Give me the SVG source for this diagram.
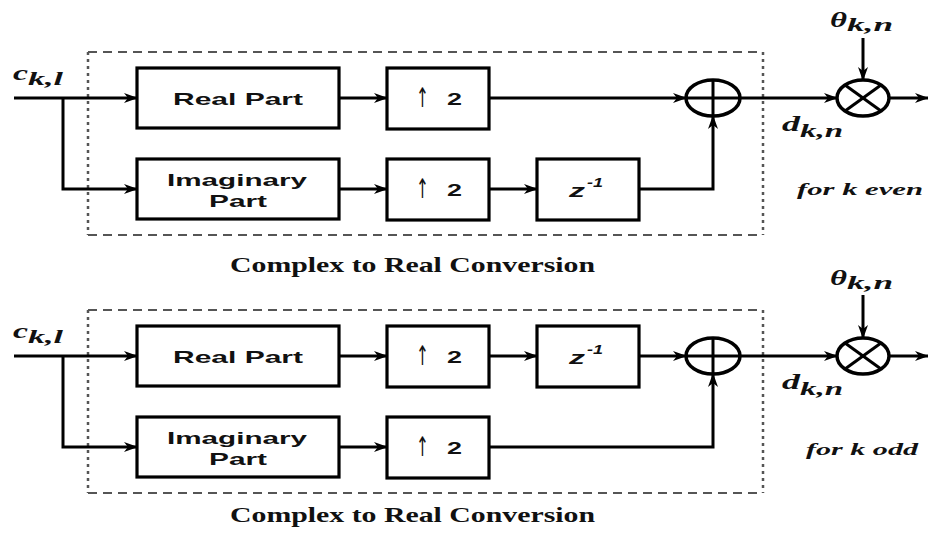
<svg xmlns="http://www.w3.org/2000/svg" width="928" height="534" viewBox="0 0 928 534">
  <style>
    .box { fill: #fff; stroke: #000; stroke-width: 3.2; }
    .wire { fill: none; stroke: #000; stroke-width: 3; }
    .dash-h { stroke: #555; stroke-width: 2; stroke-dasharray: 9 6; fill: none; }
    .dash-v { stroke: #555; stroke-width: 2.5; stroke-dasharray: 3 4; fill: none; }
    .lbl { font-family: "Liberation Sans", Arial, sans-serif; font-weight: bold; font-size: 17px; fill: #111; }
    .up { font-family: "DejaVu Sans", sans-serif; font-size: 27px; fill: #111; }
    .zl { font-family: "Liberation Sans", Arial, sans-serif; font-weight: bold; font-style: italic; fill: #111; }
    .math { font-family: "Liberation Serif", "Times New Roman", serif; font-weight: bold; font-style: italic; fill: #111; }
    .cap { font-family: "Liberation Serif", "Times New Roman", serif; font-weight: bold; font-size: 21px; fill: #111; }
    .op { fill: #fff; stroke: #000; stroke-width: 3.5; }
  </style>
  <defs>
    <marker id="arr" viewBox="0 0 14 10" refX="13" refY="5" markerWidth="14" markerHeight="10" markerUnits="userSpaceOnUse" orient="auto">
      <path d="M0,0 L14,5 L0,10 L4,5 Z" fill="#000"/>
    </marker>
  </defs>

  <!-- upper chain: k even -->
  <g id="frame-even">
    <line class="dash-h" x1="88" y1="52" x2="763" y2="52"/>
    <line class="dash-h" x1="88" y1="235" x2="763" y2="235"/>
    <line class="dash-v" x1="88" y1="52" x2="88" y2="235"/>
    <line class="dash-v" x1="763" y1="52" x2="763" y2="235"/>
  </g>
  <g id="in-even">
    <text class="math" x="13" y="80" font-size="21" textLength="15" lengthAdjust="spacingAndGlyphs">c</text>
    <text class="math" x="28" y="85" font-size="19" textLength="35" lengthAdjust="spacingAndGlyphs">k,l</text>
  </g>
  <g id="real-even">
    <rect class="box" x="137" y="68" width="202" height="60"/>
    <text class="lbl" x="173" y="105" textLength="130" lengthAdjust="spacingAndGlyphs">Real Part</text>
  </g>
  <g id="imag-even">
    <rect class="box" x="137" y="159" width="202" height="60"/>
    <text class="lbl" x="167" y="186" textLength="140" lengthAdjust="spacingAndGlyphs">Imaginary</text>
    <text class="lbl" x="209" y="207" textLength="58" lengthAdjust="spacingAndGlyphs">Part</text>
  </g>
  <g id="up-real-even">
    <rect class="box" x="387" y="68" width="102" height="61"/>
    <text class="up" x="416" y="107" textLength="13" lengthAdjust="spacingAndGlyphs">↑</text>
    <text class="lbl" x="447" y="105" textLength="15" lengthAdjust="spacingAndGlyphs">2</text>
  </g>
  <g id="up-imag-even">
    <rect class="box" x="387" y="159" width="102" height="61"/>
    <text class="up" x="416" y="198" textLength="13" lengthAdjust="spacingAndGlyphs">↑</text>
    <text class="lbl" x="447" y="196" textLength="15" lengthAdjust="spacingAndGlyphs">2</text>
  </g>
  <g id="delay-even">
    <rect class="box" x="537" y="159" width="102" height="61"/>
    <text class="zl" x="569" y="197" font-size="18" textLength="16" lengthAdjust="spacingAndGlyphs">z</text>
    <text class="zl" x="587" y="187" font-size="13" textLength="16" lengthAdjust="spacingAndGlyphs">-1</text>
  </g>
  <g id="sum-even">
    <ellipse class="op" cx="713" cy="98" rx="27" ry="18"/>
    <line class="wire" x1="686" y1="98" x2="740" y2="98"/>
    <line class="wire" x1="713" y1="80" x2="713" y2="116"/>
  </g>
  <g id="mix-even">
    <ellipse class="op" cx="863" cy="98" rx="26" ry="18"/>
    <line class="wire" x1="845" y1="85" x2="881" y2="111"/>
    <line class="wire" x1="845" y1="111" x2="881" y2="85"/>
    <text class="math" x="830" y="27" font-size="20" textLength="17" lengthAdjust="spacingAndGlyphs">θ</text>
    <text class="math" x="847" y="31" font-size="19" textLength="46" lengthAdjust="spacingAndGlyphs">k,n</text>
    <text class="math" x="782" y="131" font-size="20" textLength="18" lengthAdjust="spacingAndGlyphs">d</text>
    <text class="math" x="800" y="137" font-size="19" textLength="43" lengthAdjust="spacingAndGlyphs">k,n</text>
    <text class="math" x="797" y="195" font-size="16" textLength="126" lengthAdjust="spacingAndGlyphs">for k even</text>
  </g>
  <text id="caption-even" class="cap" x="230" y="272" textLength="365" lengthAdjust="spacingAndGlyphs">Complex to Real Conversion</text>

  <!-- lower chain: k odd -->
  <g id="frame-odd">
    <line class="dash-h" x1="88" y1="310" x2="763" y2="310"/>
    <line class="dash-h" x1="88" y1="493" x2="763" y2="493"/>
    <line class="dash-v" x1="88" y1="310" x2="88" y2="493"/>
    <line class="dash-v" x1="763" y1="310" x2="763" y2="493"/>
  </g>
  <g id="in-odd">
    <text class="math" x="13" y="338" font-size="21" textLength="15" lengthAdjust="spacingAndGlyphs">c</text>
    <text class="math" x="28" y="343" font-size="19" textLength="35" lengthAdjust="spacingAndGlyphs">k,l</text>
  </g>
  <g id="real-odd">
    <rect class="box" x="137" y="326" width="202" height="60"/>
    <text class="lbl" x="173" y="363" textLength="130" lengthAdjust="spacingAndGlyphs">Real Part</text>
  </g>
  <g id="imag-odd">
    <rect class="box" x="137" y="417" width="202" height="60"/>
    <text class="lbl" x="167" y="444" textLength="140" lengthAdjust="spacingAndGlyphs">Imaginary</text>
    <text class="lbl" x="209" y="465" textLength="58" lengthAdjust="spacingAndGlyphs">Part</text>
  </g>
  <g id="up-real-odd">
    <rect class="box" x="387" y="326" width="102" height="61"/>
    <text class="up" x="416" y="365" textLength="13" lengthAdjust="spacingAndGlyphs">↑</text>
    <text class="lbl" x="447" y="363" textLength="15" lengthAdjust="spacingAndGlyphs">2</text>
  </g>
  <g id="delay-odd">
    <rect class="box" x="537" y="326" width="102" height="61"/>
    <text class="zl" x="569" y="364" font-size="18" textLength="16" lengthAdjust="spacingAndGlyphs">z</text>
    <text class="zl" x="587" y="354" font-size="13" textLength="16" lengthAdjust="spacingAndGlyphs">-1</text>
  </g>
  <g id="up-imag-odd">
    <rect class="box" x="387" y="417" width="102" height="61"/>
    <text class="up" x="416" y="456" textLength="13" lengthAdjust="spacingAndGlyphs">↑</text>
    <text class="lbl" x="447" y="454" textLength="15" lengthAdjust="spacingAndGlyphs">2</text>
  </g>
  <g id="sum-odd">
    <ellipse class="op" cx="713" cy="356" rx="27" ry="18"/>
    <line class="wire" x1="686" y1="356" x2="740" y2="356"/>
    <line class="wire" x1="713" y1="338" x2="713" y2="374"/>
  </g>
  <g id="mix-odd">
    <ellipse class="op" cx="863" cy="356" rx="26" ry="18"/>
    <line class="wire" x1="845" y1="343" x2="881" y2="369"/>
    <line class="wire" x1="845" y1="369" x2="881" y2="343"/>
    <text class="math" x="830" y="285" font-size="20" textLength="17" lengthAdjust="spacingAndGlyphs">θ</text>
    <text class="math" x="847" y="289" font-size="19" textLength="46" lengthAdjust="spacingAndGlyphs">k,n</text>
    <text class="math" x="782" y="389" font-size="20" textLength="18" lengthAdjust="spacingAndGlyphs">d</text>
    <text class="math" x="800" y="395" font-size="19" textLength="43" lengthAdjust="spacingAndGlyphs">k,n</text>
    <text class="math" x="806" y="455" font-size="16" textLength="112" lengthAdjust="spacingAndGlyphs">for k odd</text>
  </g>
  <text id="caption-odd" class="cap" x="230" y="522" textLength="365" lengthAdjust="spacingAndGlyphs">Complex to Real Conversion</text>

  <!-- signal paths -->
  <g id="connectors">
    <!-- k even -->
    <line class="wire" x1="14" y1="98" x2="137" y2="98" marker-end="url(#arr)"/>
    <polyline class="wire" points="63,98 63,189 137,189" marker-end="url(#arr)"/>
    <line class="wire" x1="339" y1="98" x2="387" y2="98" marker-end="url(#arr)"/>
    <line class="wire" x1="339" y1="189" x2="387" y2="189" marker-end="url(#arr)"/>
    <line class="wire" x1="489" y1="98" x2="686" y2="98" marker-end="url(#arr)"/>
    <line class="wire" x1="489" y1="189" x2="537" y2="189" marker-end="url(#arr)"/>
    <polyline class="wire" points="639,189 713,189 713,116" marker-end="url(#arr)"/>
    <line class="wire" x1="740" y1="98" x2="837" y2="98" marker-end="url(#arr)"/>
    <line class="wire" x1="863" y1="38" x2="863" y2="80" marker-end="url(#arr)"/>
    <line class="wire" x1="889" y1="98" x2="928" y2="98" marker-end="url(#arr)"/>
    <!-- k odd -->
    <line class="wire" x1="14" y1="356" x2="137" y2="356" marker-end="url(#arr)"/>
    <polyline class="wire" points="63,356 63,447 137,447" marker-end="url(#arr)"/>
    <line class="wire" x1="339" y1="356" x2="387" y2="356" marker-end="url(#arr)"/>
    <line class="wire" x1="339" y1="447" x2="387" y2="447" marker-end="url(#arr)"/>
    <line class="wire" x1="489" y1="356" x2="537" y2="356" marker-end="url(#arr)"/>
    <line class="wire" x1="639" y1="356" x2="686" y2="356" marker-end="url(#arr)"/>
    <polyline class="wire" points="489,447 713,447 713,374" marker-end="url(#arr)"/>
    <line class="wire" x1="740" y1="356" x2="837" y2="356" marker-end="url(#arr)"/>
    <line class="wire" x1="863" y1="295" x2="863" y2="338" marker-end="url(#arr)"/>
    <line class="wire" x1="889" y1="356" x2="928" y2="356" marker-end="url(#arr)"/>
  </g>
</svg>
